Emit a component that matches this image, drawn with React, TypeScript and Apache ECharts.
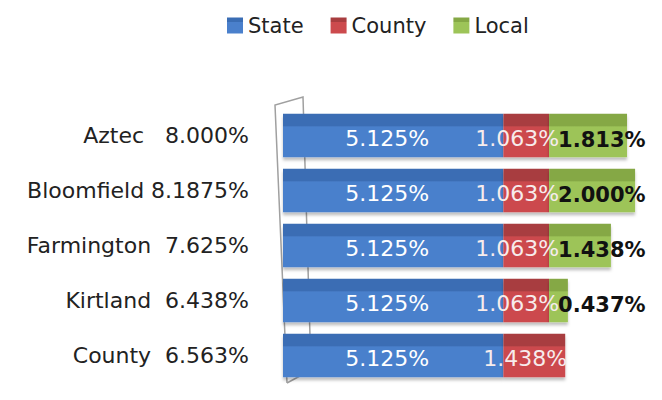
import React, { useEffect, useRef } from "react";
import * as echarts from "echarts";

const places = ["Aztec", "Bloomfield", "Farmington", "Kirtland", "County"];
const totals = ["8.000%", "8.1875%", "7.625%", "6.438%", "6.563%"];
const gaps = [3, 1, 2, 2, 2];
const stateRate = [5.125, 5.125, 5.125, 5.125, 5.125];
const countyRate = [1.063, 1.063, 1.063, 1.063, 1.438];
const localRate = [1.813, 2.0, 1.438, 0.437, null];
const seriesNames = ["State", "County", "Local"];

const FONT = "DejaVu Sans";

function shade(top: string, main: string) {
  return new echarts.graphic.LinearGradient(0, 0, 0, 1, [
    { offset: 0, color: top },
    { offset: 0.28, color: top },
    { offset: 0.3, color: main },
    { offset: 1, color: main },
  ]);
}

export default function App() {
  const ref = useRef<HTMLDivElement>(null);
  useEffect(() => {
    if (!ref.current) return;
    const chart = echarts.init(ref.current, null, { renderer: "svg" });
    const labels = places.map(
      (p, i) => p + "\u00a0".repeat(gaps[i]) + totals[i]
    );
    chart.setOption({
      animation: false,
      backgroundColor: "#ffffff",
      textStyle: { fontFamily: FONT },
      legend: {
        data: seriesNames,
        left: 222,
        top: 10,
        itemWidth: 16,
        itemHeight: 16,
        itemGap: 27,
        textStyle: { fontFamily: FONT, fontSize: 21, color: "#222" },
        icon: "rect",
      },
      grid: { left: 283, right: 13.5, top: 108, bottom: 17 },
      xAxis: { type: "value", min: 0, max: 8.5, show: false },
      yAxis: {
        type: "category",
        inverse: true,
        data: labels,
        axisLine: { show: false },
        axisTick: { show: false },
        axisLabel: {
          margin: 34,
          fontFamily: FONT,
          fontSize: 22,
          color: "#222",
        },
      },
      graphic: [
        {
          type: "polyline",
          z: 0,
          shape: { points: [[287, 383], [275, 105], [303, 97], [311, 370], [287, 383]] },
          style: { stroke: "#a0a0a0", lineWidth: 1.5, fill: "none" },
        },
      ],
      series: [
        {
          name: "State",
          type: "bar",
          stack: "tax",
          barCategoryGap: "21%",
          data: stateRate,
          itemStyle: {
            color: shade("#3a6db4", "#4a80cc"),
            shadowColor: "rgba(0,0,0,0.25)",
            shadowOffsetY: 3,
            shadowBlur: 3,
          },
          label: {
            show: true,
            position: "inside",
            offset: [-6, 3],
            formatter: (p: any) => p.value.toFixed(3) + "%",
            fontFamily: FONT,
            fontSize: 22,
            color: "#ffffff",
          },
        },
        {
          name: "County",
          type: "bar",
          stack: "tax",
          data: countyRate,
          itemStyle: {
            color: shade("#a83d3f", "#cc4a4d"),
            shadowColor: "rgba(0,0,0,0.25)",
            shadowOffsetY: 3,
            shadowBlur: 3,
          },
          label: {
            show: true,
            position: "inside",
            offset: [-9, 3],
            formatter: (p: any) => p.value.toFixed(3) + "%",
            fontFamily: FONT,
            fontSize: 22,
            color: "#f7ecec",
          },
        },
        {
          name: "Local",
          type: "bar",
          stack: "tax",
          data: localRate,
          itemStyle: {
            color: shade("#85a845", "#9dc458"),
            shadowColor: "rgba(0,0,0,0.25)",
            shadowOffsetY: 3,
            shadowBlur: 3,
          },
          label: {
            show: true,
            position: "insideLeft",
            distance: 5,
            offset: [4, 4],
            formatter: (p: any) => p.value.toFixed(3) + "%",
            fontFamily: FONT,
            fontSize: 21,
            fontWeight: "bold",
            color: "#111111",
          },
        },
      ],
      color: ["#4a80cc", "#cc4a4d", "#9dc458"],
    });
    return () => chart.dispose();
  }, []);
  return (
    <div
      ref={ref}
      style={{ position: "absolute", left: 0, top: 0, width: 662, height: 400 }}
    />
  );
}
